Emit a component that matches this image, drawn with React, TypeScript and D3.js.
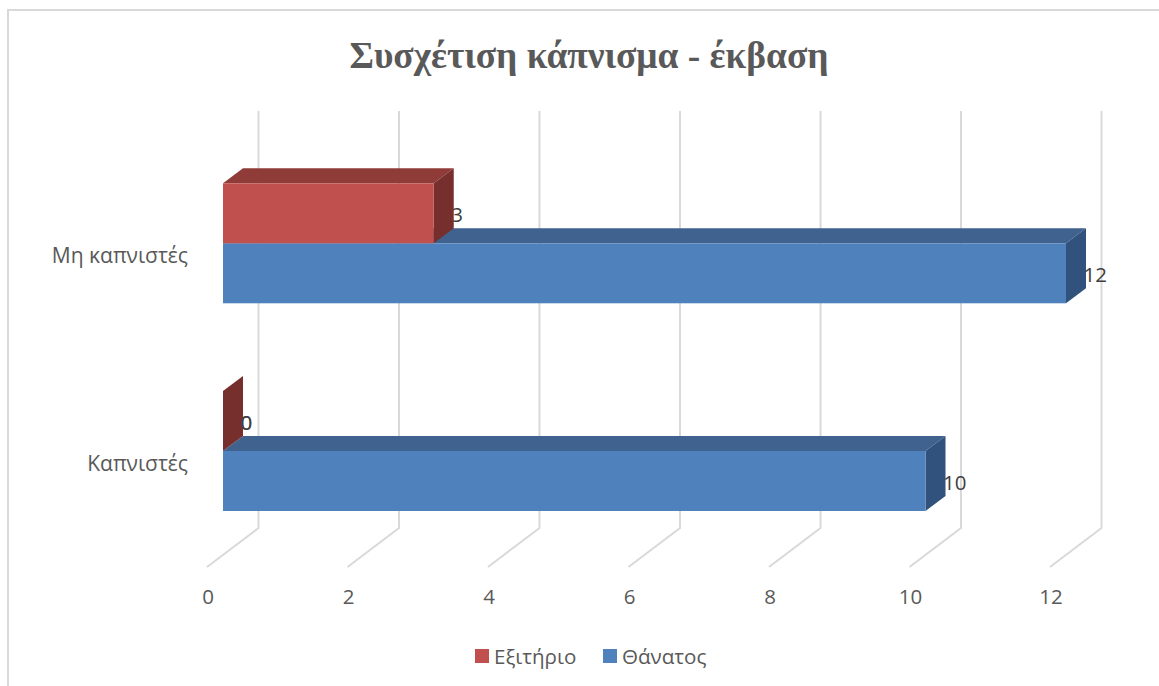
import React from "react";
import * as d3 from "d3";

// Outcome counts by smoking status, drawn as clustered 3D-style horizontal bars.
const categories = ["Καπνιστές", "Μη καπνιστές"];
const seriesNames = ["Θάνατος", "Εξιτήριο"];
const deathValues = [10, 12];
const dischargeValues = [0, 3];
const xTicks = [0, 2, 4, 6, 8, 10, 12];
const legendOrder = ["Εξιτήριο", "Θάνατος"];
const titleText = "Συσχέτιση κάπνισμα - έκβαση";

const W = 1159;
const H = 686;
const DX = 20;
const DY = -15;
const BAR_H = 60;
const FLOOR_DX = 35.5;
const GRID_TOP = 111;
const GRID_BOTTOM = 528;

const x = d3.scaleLinear().domain([0, 12]).range([223, 1066]);
const yCat = d3.scalePoint<string>().domain(categories).range([451, 243.3]);

const uiFont = "'Open Sans', sans-serif";
const labelColor = "#595959";
const valueColor = "#404040";

const palette: Record<string, { front: string; top: string; side: string }> = {
  "Θάνατος": { front: "#4f81bd", top: "#3f628f", side: "#30527c" },
  "Εξιτήριο": { front: "#c0504d", top: "#8f3b38", side: "#772f2d" },
};

const poly = (pts: [number, number][]) => d3.line()(pts) + "Z";

function Bar({ name, value, yTop }: { name: string; value: number; yTop: number }) {
  const c = palette[name];
  const x0 = x(0);
  const x1 = x(value);
  const yBot = yTop + BAR_H;
  return (
    <g>
      {value > 0 && (
        <path
          d={poly([[x0, yTop], [x0 + DX, yTop + DY], [x1 + DX, yTop + DY], [x1, yTop]])}
          fill={c.top}
        />
      )}
      <path
        d={poly([[x1, yTop], [x1 + DX, yTop + DY], [x1 + DX, yBot + DY], [x1, yBot]])}
        fill={c.side}
      />
      {value > 0 && <rect x={x0} y={yTop} width={x1 - x0} height={BAR_H} fill={c.front} />}
    </g>
  );
}

function ValueLabel({ value, yTop }: { value: number; yTop: number }) {
  return (
    <text
      x={x(value) + 17.5}
      y={yTop + BAR_H / 2 + 1}
      dominantBaseline="central"
      fontFamily={uiFont}
      fontSize={20.5}
      fill={valueColor}
    >
      {value}
    </text>
  );
}

export default function App() {
  return (
    <svg
      width={W}
      height={H}
      viewBox={`0 0 ${W} ${H}`}
      style={{ position: "fixed", left: 0, top: 0, background: "#fff" }}
    >
      <path d={`M8 ${H}V10H${W}`} fill="none" stroke="#d9d9d9" strokeWidth={2} />

      <text
        x={589}
        y={55}
        textAnchor="middle"
        dominantBaseline="central"
        fontFamily="'Liberation Serif', serif"
        fontWeight="bold"
        fontSize={37.4}
        fill={labelColor}
      >
        {titleText}
      </text>

      {xTicks.map((t) => (
        <g key={t}>
          <path
            d={`M${x(t) + FLOOR_DX} ${GRID_TOP}V${GRID_BOTTOM}L${x(t) - 16} ${GRID_BOTTOM + 39}`}
            fill="none"
            stroke="#d9d9d9"
            strokeWidth={2}
          />
          <text
            x={x(t) - 15}
            y={596}
            textAnchor="middle"
            dominantBaseline="central"
            fontFamily={uiFont}
            fontSize={20.5}
            fill={labelColor}
          >
            {t}
          </text>
        </g>
      ))}

      {categories.map((cat) => (
        <text
          key={cat}
          x={188}
          y={yCat(cat)! + 12}
          textAnchor="end"
          dominantBaseline="central"
          fontFamily={uiFont}
          fontSize={21}
          fill={labelColor}
        >
          {cat}
        </text>
      ))}

      {categories.map((cat, i) => {
        const base = yCat(cat)!;
        return (
          <g key={cat}>
            <Bar name={seriesNames[0]} value={deathValues[i]} yTop={base} />
            <ValueLabel value={dischargeValues[i]} yTop={base - BAR_H} />
            <Bar name={seriesNames[1]} value={dischargeValues[i]} yTop={base - BAR_H} />
            <ValueLabel value={deathValues[i]} yTop={base} />
            {dischargeValues[i] === 0 && <ValueLabel value={0} yTop={base - BAR_H} />}
          </g>
        );
      })}

      {legendOrder.map((name, i) => {
        const left = [475, 603][i];
        return (
          <g key={name}>
            <rect x={left} y={649} width={14} height={14} fill={palette[name].front} />
            <text
              x={left + 19}
              y={655.5}
              dominantBaseline="central"
              fontFamily={uiFont}
              fontSize={20.6}
              fill={labelColor}
            >
              {name}
            </text>
          </g>
        );
      })}
    </svg>
  );
}
